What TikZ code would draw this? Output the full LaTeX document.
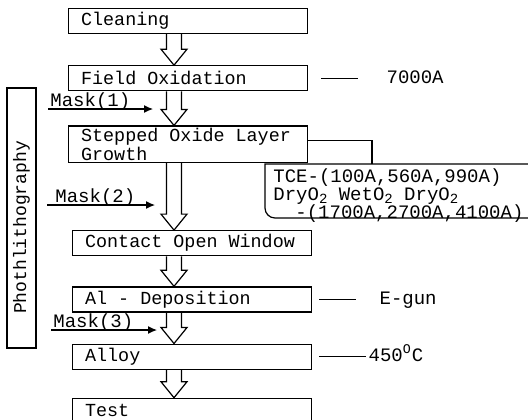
\documentclass[tikz,border=0pt]{standalone}
\usepackage{fontspec}
\setmonofont{Liberation Mono}
\usepackage{tikz}
\usetikzlibrary{positioning, arrows.meta, calc}
\newcommand{\typeface}[2]{\ttfamily\fontsize{#1}{#2}\selectfont
    \lineskiplimit=-100pt\relax}
\newcommand{\lowtwo}{\raisebox{-1.5pt}{\fontsize{7}{7}\selectfont 2}}
\tikzset{
    monospace/.style={execute at begin node={\spaceskip=0.6em\relax}},
    stepbox/.style={
        draw=black, line width=0.6pt,
        minimum width=119.5pt, minimum height=12.5pt,
        text width=107pt, align=left,
        inner xsep=6.25pt, inner ysep=1pt,
        font=\typeface{9.2}{9.5}, monospace
    },
    flow/.style={
        line width=0.6pt, draw=black,
        to path={
            let \p1=(\tikztostart.south), \p2=(\tikztotarget.north),
                \p3=(axis) in
            (\x3-3.75pt,\y1) -- (\x3-3.75pt,\y2+8pt) -- (\x3-6.5pt,\y2+8pt)
            -- (\x3,\y2) -- (\x3+6.5pt,\y2+8pt) -- (\x3+3.75pt,\y2+8pt)
            -- (\x3+3.75pt,\y1)
        }
    },
    masklabel/.style={font=\typeface{9.5}{10}, inner sep=1pt},
    maskline/.style={
        -{Latex[length=4.5pt, width=4pt]}, line width=0.6pt, draw=black
    },
    note/.style={
        font=\typeface{9.5}{10}, inner sep=1pt,
        text height=7pt, text depth=2pt
    },
    noteline/.style={line width=0.6pt, draw=black},
    litho/.style={
        draw=black, line width=0.6pt, rotate=90,
        minimum width=130pt, minimum height=14.5pt, inner sep=1pt,
        font=\typeface{9}{10}
    },
    tcetext/.style={
        font=\typeface{9.5}{9.2}, align=left, monospace,
        text width=130pt, inner xsep=4pt, inner ysep=2pt
    },
}

\begin{document}
\begin{tikzpicture}[x=0.5pt, y=-0.5pt]

\useasboundingbox (0,0) rectangle (528,419);

% ---- process column ----
\node[stepbox, anchor=north west] (clean) at (68,8) {Cleaning};
\node[stepbox, below=15.5pt of clean] (field) {Field Oxidation};
\node[stepbox, below=17pt of field] (step) {Stepped Oxide Layer\\Growth};
\node[stepbox, below=33.5pt of step, xshift=2pt] (contact) {Contact Open Window};
\node[stepbox, below=15pt of contact] (al) {Al - Deposition};
\node[stepbox, below=15.5pt of al] (alloy) {Alloy};
\node[stepbox, below=14pt of alloy] (test) {Test};

\coordinate (axis) at (174,0);
\draw[flow] (clean) to (field);
\draw[flow] (field) to (step);
\draw[flow] (step) to (contact);
\draw[flow] (contact) to (al);
\draw[flow] (al) to (alloy);
\draw[flow] (alloy) to (test);

% ---- masks ----
\node[litho] (litho) at (21.5,218) {Phothlithography\hspace*{9.5pt}};
\node[masklabel, anchor=base west] (mask1) at (48,106) {Mask(1)};
\node[masklabel, anchor=base west] (mask2) at (53,202) {Mask(2)};
\node[masklabel, anchor=base west] (mask3) at (51,327) {Mask(3)};
\coordinate (mask1-tip) at (153,109);
\coordinate (mask2-tip) at (155,205);
\coordinate (mask3-tip) at (157,330);
\draw[maskline] ([yshift=-1.5pt]mask1.base west) -- (mask1-tip);
\draw[maskline] ([yshift=-1.5pt,xshift=-3pt]mask2.base west) -- (mask2-tip);
\draw[maskline] ([yshift=-1.5pt]mask3.base west) -- (mask3-tip);

% ---- notes ----
\node[note, right=38pt of field] (thick) {7000A};
\draw[noteline] ([xshift=6.5pt]field.east) -- ([xshift=-13pt]thick.west);
\node[note, right=32.5pt of al] (egun) {E-gun};
\draw[noteline] ([xshift=3.5pt]al.east) -- ([xshift=-10.5pt]egun.west);
\node[note, right=27pt of alloy] (temp) {450\textsuperscript{O}C};
\draw[noteline] ([xshift=3.5pt]alloy.east) -- (temp.west);

% ---- oxide recipe ----
\node[tcetext, anchor=north west] (tce) at (265,164)
    {TCE-(100A,560A,990A)\\
     DryO\lowtwo{} WetO\lowtwo{} DryO\lowtwo\\
     \hspace*{11pt}-(1700A,2700A,4100A)};
\draw[noteline] (tce.north east) -- (tce.north west)
    [rounded corners=5pt] -- ([yshift=-27pt]tce.north west)
    -- ([yshift=-27pt]tce.north east);
\coordinate (tce-in) at (372,164);
\draw[noteline] ([yshift=2pt]step.east) -| (tce-in);

\end{tikzpicture}
\end{document}
